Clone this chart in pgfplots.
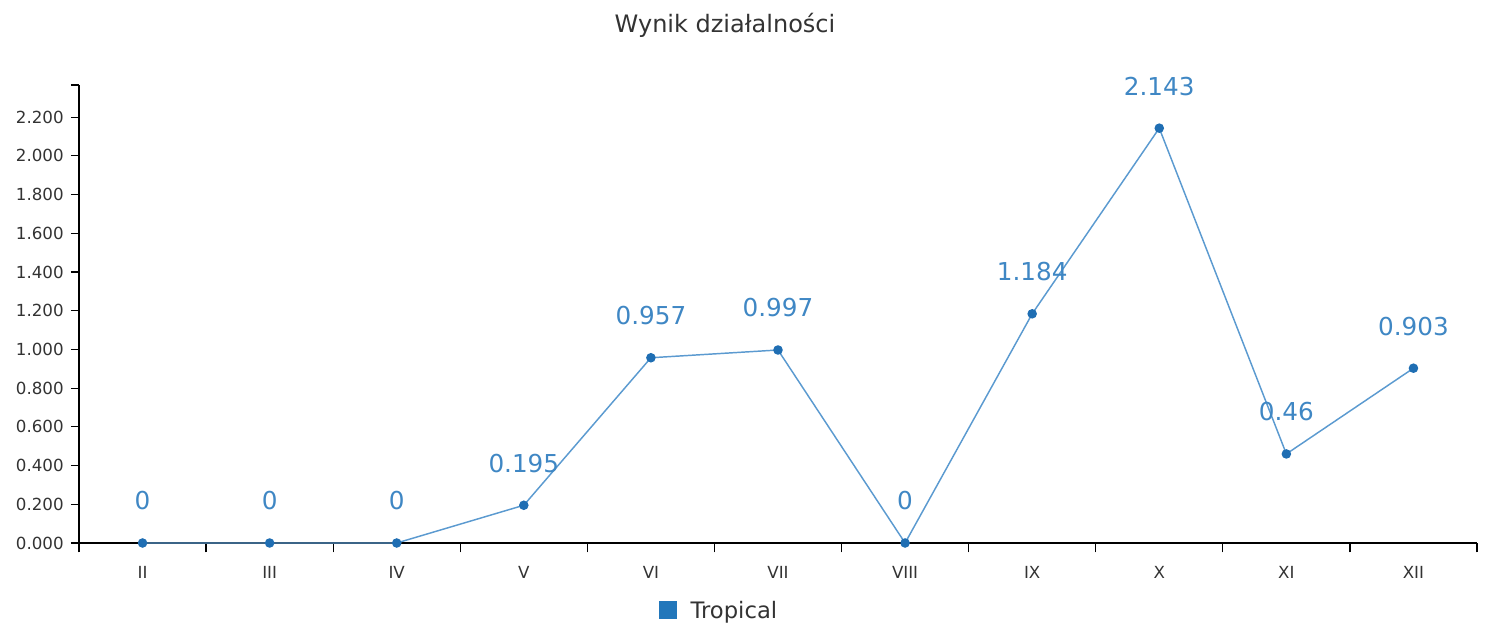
\documentclass[border=0pt]{standalone}
\usepackage{pgfplots}
\pgfplotsset{compat=1.18}
\usepackage{fontspec}
\setmainfont{DejaVu Sans}
\definecolor{txt}{HTML}{333333}
\definecolor{lbl}{HTML}{3F87C4}
\definecolor{ln}{HTML}{5B9AD0}
\definecolor{mk}{HTML}{1F6EB3}
\definecolor{sq}{HTML}{2277BB}

\pgfplotstableread{
x y label
0  0     0
1  0     0
2  0     0
3  0.195 0.195
4  0.957 0.957
5  0.997 0.997
6  0     0
7  1.184 1.184
8  2.143 2.143
9  0.46  0.46
10 0.903 0.903
}\wynik

\begin{document}
\begin{tikzpicture}
\begin{axis}[
    at={(0,0)}, anchor=south west,
    scale only axis,
    width=1048.5pt, height=343.5pt,
    xmin=-0.5, xmax=10.5,
    ymin=0, ymax=2.366,
    axis x line=bottom, axis y line=left,
    axis line style={-, black, line width=0.9pt},
    tick align=outside,
    xtick={0,...,10},
    xticklabels={II,III,IV,V,VI,VII,VIII,IX,X,XI,XII},
    major x tick style={draw=none},
    minor xtick={-0.5,0.5,...,10.5},
    minor tick length=7pt,
    minor x tick style={black, line width=0.9pt},
    ytick={0,0.2,...,2.21},
    major tick length=6pt,
    major y tick style={black, line width=0.9pt},
    extra y ticks={2.366},
    extra y tick labels={},
    extra y tick style={major y tick style={black, line width=0.9pt}},
    /pgf/number format/.cd, fixed, fixed zerofill, precision=3, 1000 sep={}, assume math mode=true,
    /pgfplots/.cd,
    yticklabel style={font=\fontsize{12.5}{13}\selectfont, text=txt, xshift=-2pt},
    xticklabel style={font=\fontsize{12.5}{13}\selectfont, text=txt, yshift=-8pt},
    legend entries={Tropical},
    legend style={draw=none, fill=none, at={(0.457,-0.146)}, anchor=center,
        font=\fontsize{17}{19}\selectfont, text=txt,
        nodes={inner sep=0pt, text depth=0pt}},
    legend image code/.code={\fill[sq, draw=none] (0pt,-6.75pt) rectangle (13.5pt,6.75pt);
        \path[draw=none, fill=none] (0pt,0pt) rectangle (24pt,0.1pt);},
]
\addplot[ln, line width=1.1pt, mark=*, mark size=3pt,
    mark options={draw=mk, fill=mk},
    nodes near coords, point meta=explicit symbolic,
    nodes near coords style={font=\fontsize{18.5}{20}\selectfont, text=lbl,
        anchor=south, inner sep=0pt, yshift=24pt}]
    table[x=x, y=y, meta=label] {\wynik};
\end{axis}
\node[text=txt, font=\fontsize{18}{20}\selectfont] at (484.5pt,388.5pt) {Wynik działalności};
\pgfresetboundingbox
\path[use as bounding box] (-59.25pt,-63.75pt) rectangle (1054.5pt,407.25pt);
\end{tikzpicture}
\end{document}
